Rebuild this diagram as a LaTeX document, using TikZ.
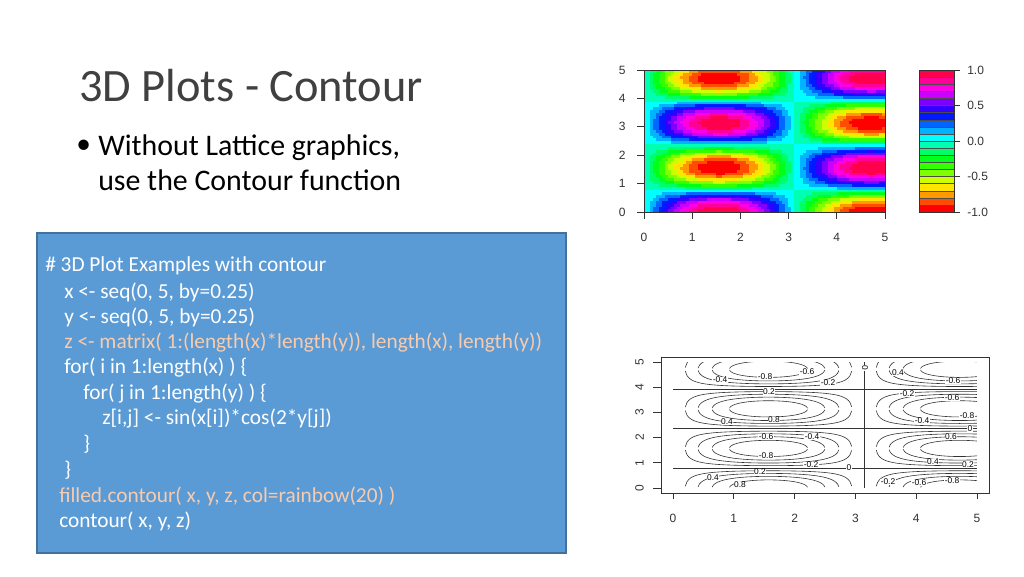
\documentclass[tikz,border=0pt]{standalone}
\usepackage{fontspec}
\setmainfont{Carlito}
\newfontfamily\axisfont{Liberation Sans}
\usepackage{xcolor}
\definecolor{boxblue}{HTML}{5B9BD5}
\definecolor{boxedge}{HTML}{41719C}
\definecolor{peach}{HTML}{F8CBAD}
\definecolor{titlegray}{HTML}{404040}
\tikzset{
  codeline/.style={anchor=west,inner sep=0pt,text=white,font=\fontsize{16}{18}\selectfont},
  axlbl/.style={inner sep=0pt,font=\axisfont\fontsize{9}{10}\selectfont,text=black!80},
  clbl/.style={inner sep=0.3pt,fill=white,font=\axisfont\fontsize{6.3}{7}\selectfont},
  cline/.style={line width=0.45pt,black!80}
}
\begin{document}
\begin{tikzpicture}[x=0.75pt,y=0.75pt,yscale=-1,xscale=1]
\useasboundingbox (0,0) rectangle (1024,576);

% Title and bullet
\node (title) [anchor=west,inner sep=0pt,text=titlegray,font=\fontsize{34.8}{40}\selectfont] at (79,86) {3D Plots - Contour};
\node (bullet) [anchor=west,inner sep=0pt,font=\fontsize{22}{24}\selectfont] at (76,147) {\textbullet};
\node (btext1) [anchor=west,inner sep=0pt,font=\fontsize{22.4}{24}\selectfont] at (98,148) {Without Lattice graphics,};
\node (btext2) [anchor=west,inner sep=0pt,font=\fontsize{22.4}{24}\selectfont] at (98,180) {use the Contour function};

% Code box
\draw [fill=boxblue,draw=boxedge,line width=0.8pt] (37,233) rectangle (566,553);
\node (c1) [codeline] at (45,266) {\# 3D Plot Examples with contour};
\node (c2) [codeline] at (64,292) {x <- seq(0, 5, by=0.25)};
\node (c3) [codeline] at (64,317) {y <- seq(0, 5, by=0.25)};
\node (c4) [codeline,text=peach] at (64,343) {z <- matrix( 1:(length(x)*length(y)), length(x), length(y))};
\node (c5) [codeline] at (64,368) {for( i in 1:length(x) ) \{};
\node (c6) [codeline] at (83,394) {for( j in 1:length(y) ) \{};
\node (c7) [codeline] at (102,419) {z[i,j] <- sin(x[i])*cos(2*y[j])};
\node (c8) [codeline] at (83,444) {\}};
\node (c9) [codeline] at (64,470) {\}};
\node (c10) [codeline,text=peach] at (59,496) {filled.contour( x, y, z, col=rainbow(20) )};
\node (c11) [codeline] at (59,521) {contour( x, y, z)};

%Filled contour
\begin{scope}[shift={(644,212)},x=48.2*0.75pt,y=-28.4*0.75pt]
\foreach \i in {0,...,79}{
  \foreach \j in {0,...,49}{
    \pgfmathsetmacro\xx{(\i+0.5)*5/80}
    \pgfmathsetmacro\yy{(\j+0.5)*5/50}
    \pgfmathsetmacro\hh{min(19,floor((sin(\xx r)*cos(2*\yy r)+1)*10))/20}
    \definecolor{cc}{hsb}{\hh,1,1}
    \fill [cc] (\i*5/80-0.005,\j*5/50-0.01) rectangle ({(\i+1)*5/80+0.005},{(\j+1)*5/50+0.01});
  }
}
\draw [black!80,line width=0.5pt] (0,0) rectangle (5,5);
\foreach \t in {0,...,5}{
  \draw [black!80,line width=0.5pt] (\t,0) -- ++(0,-0.245);
  \node (fx\t) [axlbl] at (\t,-0.9) {\t};
  \draw [black!80,line width=0.5pt] (0,\t) -- ++(-0.15,0);
  \node (fy\t) [axlbl] at (-0.45,\t) {\t};
}
\end{scope}

%Legend
\begin{scope}[shift={(919,212)},x=0.75pt,y=-0.75pt]
\foreach \k in {0,...,19}{
  \pgfmathsetmacro\hh{\k/20}
  \definecolor{cc}{hsb}{\hh,1,1}
  \fill [cc] (0,\k*7.1) rectangle (35,\k*7.1+7.1);
  \draw [black!70,line width=0.3pt] (0,\k*7.1) -- (35,\k*7.1);
}
\draw [black!80,line width=0.5pt] (0,0) rectangle (35,142);
\foreach \v/\lb in {0/-1.0,1/-0.5,2/0.0,3/0.5,4/1.0}{
  \draw [black!80,line width=0.5pt] (35,\v*35.5) -- (41,\v*35.5);
  \node (lg\v) [axlbl,anchor=west] at (48,\v*35.5) {\lb};
}
\end{scope}

%Contour lines
\begin{scope}[shift={(673,488)},x=60.8*0.75pt,y=-25.2*0.75pt]
\draw [black!80,line width=0.5pt] (-0.2,-0.2) rectangle (5.2,5.2);
\foreach \t in {0,...,5}{
  \draw [black!80,line width=0.5pt] (\t,-0.2) -- (\t,-0.45);
  \node (kx\t) [axlbl] at (\t,-1.2) {\t};
  \draw [black!80,line width=0.5pt] (-0.2,\t) -- (-0.33,\t);
  \node (ky\t) [axlbl,rotate=90] at (-0.55,\t) {\t};
}
\begin{scope}
\clip (0,0) rectangle (5,5);
\foreach \c in {-0.8,-0.6,-0.4,-0.2,0.2,0.4,0.6,0.8}{
  \pgfmathsetmacro\xa{rad(asin(abs(\c)))+0.002}
  \pgfmathsetmacro\xb{pi-\xa}
  \pgfmathsetmacro\xc{pi+\xa}
  \pgfmathsetmacro\xd{min(5,2*pi-\xa)}
  \foreach \lo/\hi in {\xa/\xb,\xc/\xd}{
    \foreach \k/\s in {0/1,1/-1,1/1,2/-1}{
      \draw [cline] plot [domain=\lo:\hi,samples=100,smooth] (\x,{\k*pi+\s*rad(acos(max(-1,min(1,\c/sin(\x r)))))/2});
    }
  }
}
\draw [cline] (pi,0) -- (pi,5);
\foreach \q in {1,3,5}{
  \draw [cline] (0,\q*pi/4) -- (5,\q*pi/4);
}
\end{scope}
\end{scope}

% contour labels
\foreach \px/\py/\lb [count=\n] in {765/377/-0.8,807/372/-0.6,720/380/-0.4,828/383/-0.2,769/392/0.2,
  898/373/0.4,953/381/-0.6,907/394/-0.2,952/398/-0.6,967/416/-0.8,727/422/0.4,774/420/0.8,
  922/421/-0.4,766/437/-0.6,812/437/-0.4,951/437/0.6,766/456/-0.8,811/465/-0.2,849/468/0,
  760/472/0.2,933/462/0.4,968/465/0.2,713/478/0.4,740/485/0.8,888/482/-0.2,919/483/-0.6,952/481/-0.8}{
  \node (cl\n) [clbl] at (\px,\py) {\lb};
}
\node (clz1) [clbl,rotate=-90] at (865,368) {0};
\node (clz2) [clbl] at (970,429) {0};
\end{tikzpicture}
\end{document}
